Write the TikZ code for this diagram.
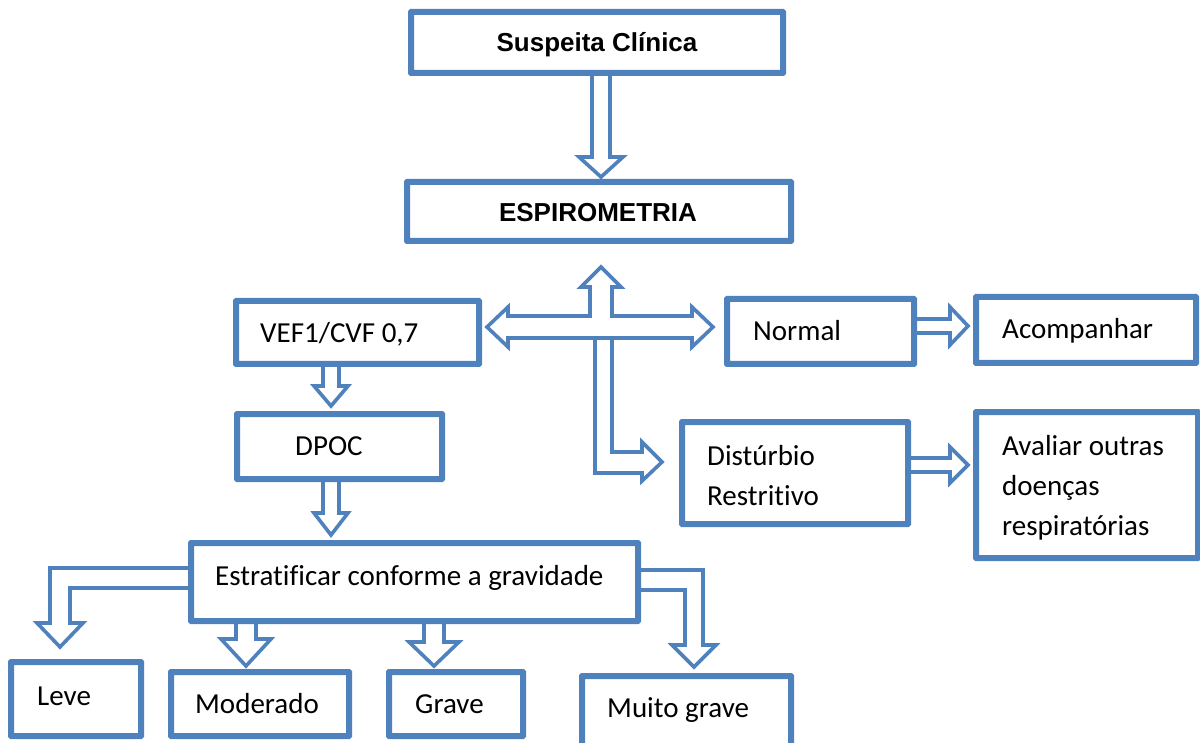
\documentclass[tikz,border=0pt]{standalone}
\usepackage{fontspec}
\setmainfont{Carlito}[RawFeature={-liga}]
\newfontfamily\arialfont{Liberation Sans}
\definecolor{bblue}{RGB}{79,129,189}
\tikzset{
  boxst/.style={draw=bblue, line width=4pt, rectangle, inner sep=0pt, rounded corners=1pt},
  barrow/.style={draw=bblue, fill=white, line width=3.6pt, line join=miter},
  txt/.style={inner sep=0pt, font=\fontsize{29}{35}\selectfont, anchor=base west},
  ttl/.style={inner sep=0pt, font=\arialfont\bfseries\fontsize{26}{30}\selectfont, anchor=base}
}
\newcommand\boxat[5]{\node[boxst, minimum width={(#4-#2)*1pt}, minimum height={(#5-#3)*1pt}] (#1) at ({(#2+#4)/2},{(#3+#5)/2}) {};}
% x, ytop, yheadbase, ytip, shaft half, head half
\newcommand\DArr[6]{\draw[barrow] ({#1-#5},#2) -- ({#1-#5},#3) -- ({#1-#6},#3) -- (#1,#4) -- ({#1+#6},#3) -- ({#1+#5},#3) -- ({#1+#5},#2) -- cycle;}
% y, xleft, xheadbase, xtip, shaft half, head half
\newcommand\RArr[6]{\draw[barrow] (#2,{#1-#5}) -- (#3,{#1-#5}) -- (#3,{#1-#6}) -- (#4,#1) -- (#3,{#1+#6}) -- (#3,{#1+#5}) -- (#2,{#1+#5}) -- cycle;}
\begin{document}
\begin{tikzpicture}[x=1pt,y=-1pt]
\clip (0,0) rectangle (1200,743);
\useasboundingbox (0,0) rectangle (1200,743);
% boxes
\boxat{s}{412}{13}{782}{72}
\boxat{e}{408}{183}{790}{240}
\boxat{v}{237}{302}{478}{363}
\boxat{n}{728}{300}{913}{363}
\boxat{a}{977}{298}{1195}{362}
\boxat{d}{238}{415}{441}{478}
\boxat{r}{683}{423}{907}{523}
\boxat{o}{977}{413}{1197}{557}
\boxat{g}{192}{544}{637}{620}
\boxat{l}{12}{663}{140}{735}
\boxat{m}{172}{673}{348}{735}
\boxat{gr}{390}{673}{522}{735}
\boxat{mg}{583}{677}{790}{765}
% block arrows
\DArr{601}{72}{157}{177}{9}{22}
\DArr{331}{363}{386}{406}{8}{17}
\DArr{331}{478}{513}{535}{8}{17}
\DArr{246}{620}{639}{666}{10}{25}
\DArr{434}{620}{642}{666}{10}{25}
\RArr{326}{913}{950}{968}{7}{19}
\RArr{465}{907}{950}{968}{7}{18}
% bent arrow to Distúrbio
\draw[barrow] (595,338) -- (595,473) -- (642,473) -- (642,481) -- (662,462) -- (642,442) -- (642,452) -- (612,452) -- (612,338) -- cycle;
% cross arrow
\draw[barrow] (601,267) -- (621,287) -- (612,287) -- (612,316) -- (692,316) -- (692,307) -- (713,327) -- (692,347) -- (692,338) -- (508,338) -- (508,347) -- (487,327) -- (508,307) -- (508,316) -- (590,316) -- (590,287) -- (581,287) -- cycle;
% bent arrow to Leve
\draw[barrow] (192,568) -- (50,568) -- (50,623) -- (37,623) -- (60,647) -- (83,623) -- (70,623) -- (70,588) -- (192,588) -- cycle;
% bent arrow to Muito grave
\draw[barrow] (637,570) -- (703,570) -- (703,645) -- (716,645) -- (694,667) -- (672,645) -- (685,645) -- (685,590) -- (637,590) -- cycle;
% redraw box borders on top
\foreach \b in {s,e,v,n,a,d,r,o,g,l,m,gr,mg} {\draw[draw=bblue, line width=4pt, rounded corners=1pt] (\b.north west) rectangle (\b.south east);}
% texts
\node[ttl] (ts) at (597,52) {Suspeita Clínica};
\node[ttl] (te) at (598,222) {ESPIROMETRIA};
\node[txt] (tv) at (260,343) {VEF1/CVF 0,7};
\node[txt] (tn) at (753,341) {Normal};
\node[txt] (ta) at (1002,339) {Acompanhar};
\node[txt] (td) at (295,455) {DPOC};
\node[txt] (tr1) at (707,465) {Distúrbio};
\node[txt] (tr2) at (707,505) {Restritivo};
\node[txt] (to1) at (1002,455) {Avaliar outras};
\node[txt] (to2) at (1002,495) {doenças};
\node[txt] (to3) at (1002,535) {respiratórias};
\node[txt] (tg) at (215,585) {Estratificar conforme a gravidade};
\node[txt] (tl) at (37,705) {Leve};
\node[txt] (tm) at (195,713) {Moderado};
\node[txt] (tgr) at (415,713) {Grave};
\node[txt] (tmg) at (607,717) {Muito grave};
\end{tikzpicture}
\end{document}
